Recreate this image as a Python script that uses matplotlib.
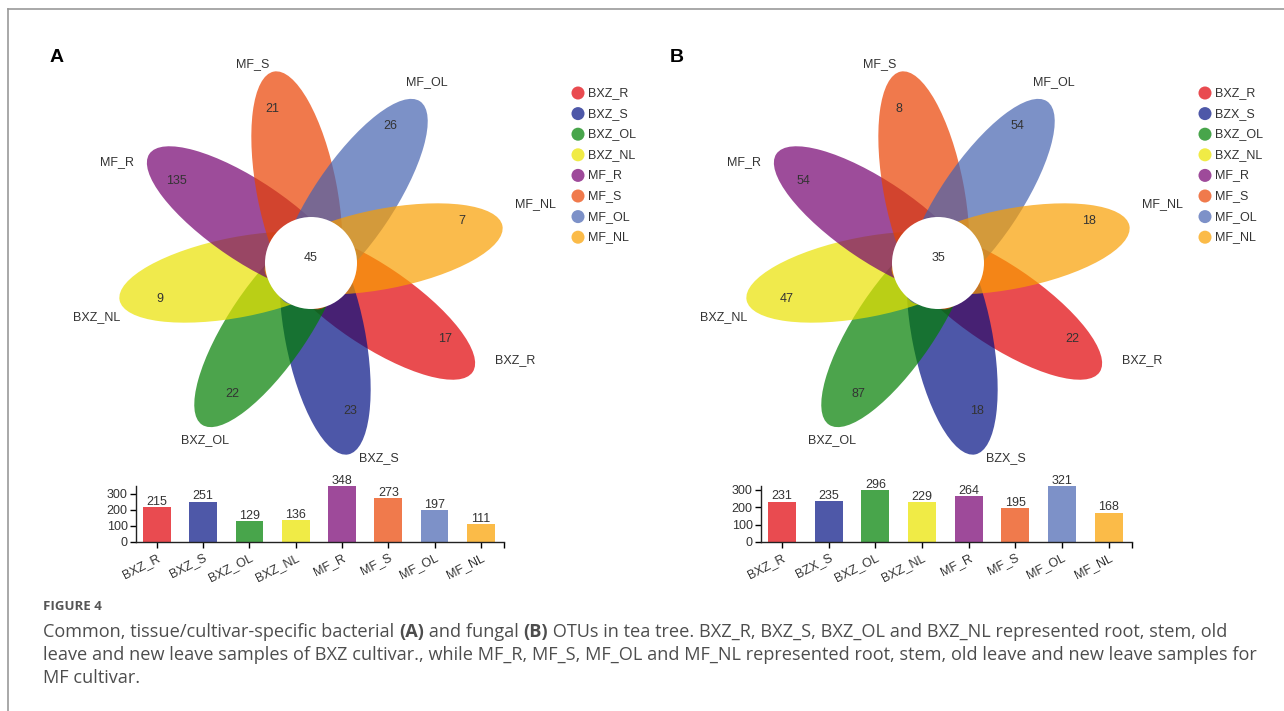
import numpy as np
import matplotlib
matplotlib.use("Agg")
import matplotlib.pyplot as plt
from matplotlib.patches import Ellipse, Circle

plt.rcParams["font.family"] = ["Liberation Sans", "DejaVu Sans"]

# data
samples_a = ["BXZ_R", "BXZ_S", "BXZ_OL", "BXZ_NL", "MF_R", "MF_S", "MF_OL", "MF_NL"]
unique_a = [17, 23, 22, 9, 135, 21, 26, 7]
core_a = 45
totals_a = [215, 251, 129, 136, 348, 273, 197, 111]

samples_b = ["BXZ_R", "BZX_S", "BXZ_OL", "BXZ_NL", "MF_R", "MF_S", "MF_OL", "MF_NL"]
unique_b = [22, 18, 87, 47, 54, 8, 54, 18]
core_b = 35
totals_b = [231, 235, 296, 229, 264, 195, 321, 168]

colors = ["#E94B50", "#4E58A8", "#48A54B", "#F0EB46", "#9E4A9A", "#F07A4C", "#7D91C8", "#FBBB48"]

caption_head = "FIGURE 4"
caption_lines = [
    [("Common, tissue/cultivar-specific bacterial ", False), ("(A)", True), (" and fungal ", False),
     ("(B)", True), (" OTUs in tea tree. BXZ_R, BXZ_S, BXZ_OL and BXZ_NL represented root, stem, old", False)],
    [("leave and new leave samples of BXZ cultivar., while MF_R, MF_S, MF_OL and MF_NL represented root, stem, old leave and new leave samples for", False)],
    [("MF cultivar.", False)],
]

W, H = 1284, 711
ALPHA = 0.7
text_col = "#333333"


def petal_color(c):
    rgb = np.array(matplotlib.colors.to_rgb(c))
    return np.clip((rgb - (1 - ALPHA)) / ALPHA, 0, 1)


def flower(ax, cx, cy, samples, unique, core):
    n = len(samples)
    for i in range(n):
        th = -34 - 45 * i
        t = np.radians(th)
        d, a, b = 74, 121, 40
        e = Ellipse((cx + d * np.cos(t), cy - d * np.sin(t)), 2 * a, 2 * b, angle=-th,
                    facecolor=petal_color(colors[i]), edgecolor="none", alpha=ALPHA)
        ax.add_patch(e)
    for i in range(n):
        th = np.radians(-34 - 45 * i + 3.5)
        ax.text(cx + 156 * np.cos(th), cy - 3 - 156 * np.sin(th), str(unique[i]),
                ha="center", va="center", fontsize=9, color=text_col)
        th = np.radians(-34 - 45 * i + 5)
        ax.text(cx + 5 + 228 * np.cos(th), cy - 2 - 205 * np.sin(th), samples[i],
                ha="center", va="center", fontsize=9, color=text_col)
    ax.add_patch(Circle((cx, cy), 46, facecolor="white", edgecolor="none"))
    ax.text(cx, cy - 5, str(core), ha="center", va="center", fontsize=9, color=text_col)


def legend(ax, x, y, samples):
    ys = y + 20.6 * np.arange(len(samples))
    ax.scatter(np.full(len(samples), x), ys, s=88, c=colors, edgecolors="none")
    for yy, s in zip(ys, samples):
        ax.text(x + 10, yy, s, ha="left", va="center", fontsize=9, color=text_col)


def bars(rect, samples, totals):
    bx = fig.add_axes(rect)
    bx.patch.set_alpha(0)
    xs = np.arange(len(samples))
    bx.bar(xs, totals, width=0.6, color=colors)
    for x, v in zip(xs, totals):
        bx.text(x, v - 4, str(v), ha="center", va="bottom", fontsize=9, color=text_col)
    bx.set_xlim(-0.45, len(samples) - 0.5)
    bx.set_ylim(0, max(totals))
    bx.set_yticks([0, 100, 200, 300])
    bx.set_xticks(xs)
    bx.set_xticks([len(samples) - 0.5], minor=True)
    bx.set_xticklabels(samples, rotation=27, ha="right", rotation_mode="anchor", fontsize=9, color=text_col)
    bx.tick_params(axis="y", labelsize=9, labelcolor=text_col, length=4, width=1, pad=2)
    bx.tick_params(axis="x", which="both", length=4, width=1, pad=3)
    for sp in ["top", "right"]:
        bx.spines[sp].set_visible(False)
    for sp in ["left", "bottom"]:
        bx.spines[sp].set_linewidth(1)
        bx.spines[sp].set_color("#222222")
    return bx


fig = plt.figure(figsize=(W / 100, H / 100), dpi=100)
ax = fig.add_axes([0, 0, 1, 1])
ax.set_xlim(0, W)
ax.set_ylim(H, 0)
ax.axis("off")

# frame
ax.plot([8, W], [9, 9], color="#999999", lw=1.2)
ax.plot([8, 8], [9, H], color="#999999", lw=1.2)

ax.text(57, 58, "A", fontsize=14, fontweight="bold", ha="center", va="center", color="black")
ax.text(677, 58, "B", fontsize=14, fontweight="bold", ha="center", va="center", color="black")

flower(ax, 311, 263, samples_a, unique_a, core_a)
flower(ax, 938, 263, samples_b, unique_b, core_b)
legend(ax, 578, 93, samples_a)
legend(ax, 1205, 93, samples_b)

bars([136 / W, (H - 542) / H, 368 / W, 56 / H], samples_a, totals_a)
bars([761 / W, (H - 542) / H, 371 / W, 56 / H], samples_b, totals_b)

# caption
cap_font = ["Open Sans", "DejaVu Sans"]
ax.text(43, 606, caption_head, fontsize=9.5, fontweight="bold", color="#555555",
        ha="left", va="center", family=cap_font)
fig.canvas.draw()
r = fig.canvas.get_renderer()
for k, line in enumerate(caption_lines):
    x = 43
    y = 632 + 23 * k
    for seg, bold in line:
        t = ax.text(x, y, seg, fontsize=13.1, fontweight="bold" if bold else "normal",
                    color="#4d4d4d", ha="left", va="center", family=cap_font)
        x += t.get_window_extent(renderer=r).width

fig.savefig("out.png", dpi=100)
